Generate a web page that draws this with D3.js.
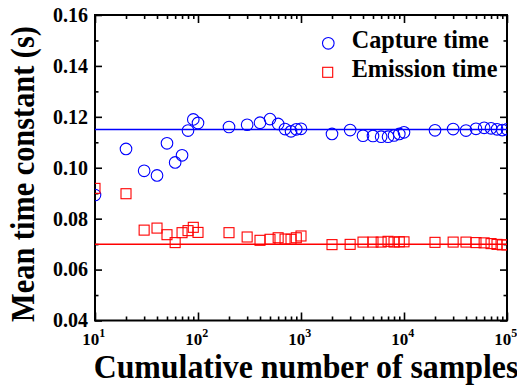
<!DOCTYPE html>
<html><head><meta charset="utf-8">
<script src="https://cdn.jsdelivr.net/npm/d3@7"></script>
<style>
body{margin:0;background:#fff}
svg{display:block}
text{font-family:"Liberation Serif","Times New Roman",serif;font-weight:bold;fill:#000}
</style>
</head><body>
<svg id="c" width="517" height="387"></svg>
<script>
// ---- data ----
const samples = [10,20,30,40,50,60,70,80,90,100,200,300,400,500,600,700,800,900,1000,2000,3000,4000,5000,6000,7000,8000,9000,10000,20000,30000,40000,50000,60000,70000,80000,90000,100000];
const captureTime = [0.0893,0.1074,0.0988,0.0970,0.1096,0.1021,0.1049,0.1146,0.1190,0.1176,0.1160,0.1169,0.1177,0.1191,0.1172,0.1152,0.1143,0.1151,0.1153,0.1133,0.1148,0.1126,0.1125,0.1122,0.1122,0.1127,0.1133,0.1139,0.1147,0.1152,0.1146,0.1153,0.1157,0.1155,0.1151,0.1148,0.1151];
const emissionTime = [0.0919,0.0898,0.0755,0.0763,0.0737,0.0706,0.0745,0.0753,0.0766,0.0746,0.0745,0.0728,0.0715,0.0719,0.0725,0.0720,0.0719,0.0725,0.0732,0.0698,0.0699,0.0708,0.0708,0.0708,0.0711,0.0708,0.0709,0.0709,0.0707,0.0708,0.0708,0.0706,0.0705,0.0702,0.0699,0.0697,0.0697];
const captureMean = 0.115;
const emissionMean = 0.070;
const xDomain = [10,100000];
const yDomain = [0.04,0.16];
const xMajorTicks = [10,100,1000,10000,100000];
const xTickBase = "10";
const xTickExponents = ["1","2","3","4","5"];
const yMajorTicks = [0.04,0.06,0.08,0.10,0.12,0.14,0.16];
const yMinorTicks = [0.05,0.07,0.09,0.11,0.13,0.15];
const legendLabels = ["Capture time","Emission time"];
const xTitle = "Cumulative number of samples";
const yTitle = "Mean time constant (s)";

// ---- layout ----
const L=95,R=507,T=15,B=320.5;
const svg = d3.select("#c");
const x = d3.scaleLog().domain(xDomain).range([L,R]);
const y = d3.scaleLinear().domain(yDomain).range([B,T]);

const xMinorTicks = [];
xMajorTicks.slice(0,-1).forEach(d=>{for(let k=2;k<=9;k++) xMinorTicks.push(d*k);});

svg.append("defs").append("clipPath").attr("id","clip")
  .append("rect").attr("x",L).attr("y",T).attr("width",R-L).attr("height",B-T);

// axes
function styleAxis(g){
  g.select(".domain").remove();
  g.selectAll(".tick line").attr("stroke","#000").attr("stroke-width",1.6);
}
svg.append("g").attr("transform",`translate(0,${B})`)
  .call(d3.axisBottom(x).tickValues(xMajorTicks).tickSize(-8).tickSizeOuter(0).tickFormat(""))
  .call(styleAxis);
svg.append("g").attr("transform",`translate(0,${B})`)
  .call(d3.axisBottom(x).tickValues(xMinorTicks).tickSize(-4).tickSizeOuter(0).tickFormat(""))
  .call(styleAxis);
svg.append("g").attr("transform",`translate(0,${T})`)
  .call(d3.axisTop(x).tickValues(xMajorTicks).tickSize(-8).tickSizeOuter(0).tickFormat(""))
  .call(styleAxis);
svg.append("g").attr("transform",`translate(0,${T})`)
  .call(d3.axisTop(x).tickValues(xMinorTicks).tickSize(-4).tickSizeOuter(0).tickFormat(""))
  .call(styleAxis);
const yl = svg.append("g").attr("transform",`translate(${L},0)`)
  .call(d3.axisLeft(y).tickValues(yMajorTicks).tickSize(-7).tickSizeOuter(0).tickPadding(7).tickFormat(d3.format(".2f")))
  .call(styleAxis);
yl.selectAll("text").attr("font-size",20).attr("fill","#000")
  .style("font-family",'"Liberation Serif","Times New Roman",serif').style("font-weight","bold");
svg.append("g").attr("transform",`translate(${L},0)`)
  .call(d3.axisLeft(y).tickValues(yMinorTicks).tickSize(-3.5).tickSizeOuter(0).tickFormat(""))
  .call(styleAxis);
svg.append("g").attr("transform",`translate(${R},0)`)
  .call(d3.axisRight(y).tickValues(yMajorTicks).tickSize(-7).tickSizeOuter(0).tickFormat(""))
  .call(styleAxis);
svg.append("g").attr("transform",`translate(${R},0)`)
  .call(d3.axisRight(y).tickValues(yMinorTicks).tickSize(-3.5).tickSizeOuter(0).tickFormat(""))
  .call(styleAxis);

// x tick labels with superscripts
xMajorTicks.forEach((v,i)=>{
  const t = svg.append("text").attr("x",x(v)-12.7).attr("y",345).attr("font-size",17);
  t.append("tspan").text(xTickBase);
  t.append("tspan").attr("font-size",12).attr("dy",-8).text(xTickExponents[i]);
});

// frame
svg.append("rect").attr("x",L).attr("y",T).attr("width",R-L).attr("height",B-T)
  .attr("fill","none").attr("stroke","#000").attr("stroke-width",2);

// data
const plot = svg.append("g").attr("clip-path","url(#clip)");
const meanLine = d3.line().x(d=>x(d[0])).y(d=>y(d[1]));
plot.append("path").attr("d",meanLine(xDomain.map(d=>[d,captureMean])))
  .attr("stroke","#0000ff").attr("stroke-width",1.5).attr("fill","none");
plot.append("path").attr("d",meanLine(xDomain.map(d=>[d,emissionMean])))
  .attr("stroke","#ff0000").attr("stroke-width",1.5).attr("fill","none");

plot.selectAll("circle.cap").data(samples).enter().append("circle").attr("class","cap")
  .attr("cx",d=>x(d)).attr("cy",(d,i)=>y(captureTime[i])).attr("r",5.8)
  .attr("fill","none").attr("stroke","#0000ff").attr("stroke-width",1.1);
const s=10;
plot.selectAll("rect.em").data(samples).enter().append("rect").attr("class","em")
  .attr("x",d=>x(d)-s/2).attr("y",(d,i)=>y(emissionTime[i])-s/2).attr("width",s).attr("height",s)
  .attr("fill","none").attr("stroke","#ff0000").attr("stroke-width",1.1);

// legend
svg.append("circle").attr("cx",328.3).attr("cy",43.3).attr("r",5.8)
  .attr("fill","none").attr("stroke","#0000ff").attr("stroke-width",1.1);
svg.append("rect").attr("x",327.7-s/2).attr("y",72.3-s/2).attr("width",s).attr("height",s)
  .attr("fill","none").attr("stroke","#ff0000").attr("stroke-width",1.1);
[48.3,77.3].forEach((by,i)=>{
  svg.append("g").attr("transform",`translate(351.7,${by}) scale(0.93,1)`)
    .append("text").attr("font-size",26).text(legendLabels[i]);
});

// axis titles
svg.append("g").attr("transform","translate(306,378.3) scale(0.965,1)")
  .append("text").attr("text-anchor","middle").attr("font-size",33).text(xTitle);
svg.append("g").attr("transform","translate(33.5,174) rotate(-90) scale(0.92,1)")
  .append("text").attr("text-anchor","middle").attr("font-size",33).text(yTitle);
</script>
</body></html>
